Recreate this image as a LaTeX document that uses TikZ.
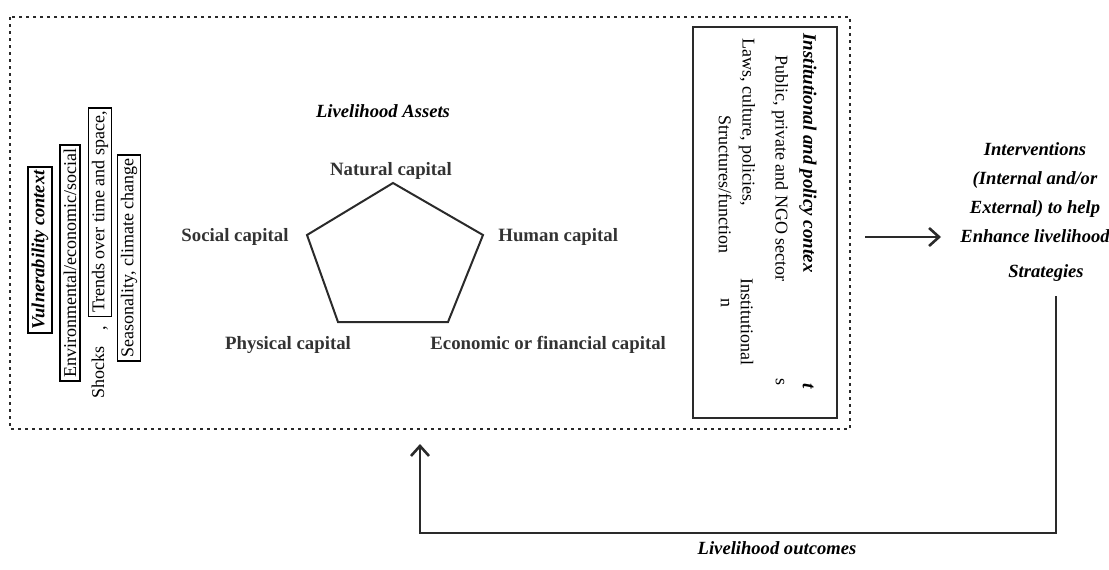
\documentclass[tikz,border=0pt]{standalone}
\usepackage{fontspec}
\setmainfont{Liberation Serif}
\usetikzlibrary{arrows.meta}
\definecolor{ink}{HTML}{2A2A2A}
\definecolor{lab}{HTML}{333333}
\tikzset{
  reg/.style={font=\fontsize{9}{10}\selectfont},
  bi/.style={font=\fontsize{9.3}{11}\selectfont\bfseries\itshape},
  caplabel/.style={font=\fontsize{9.4}{11}\selectfont\bfseries, text=lab, inner sep=0pt},
  vbox/.style={draw, line width=0.8pt, inner sep=1.7pt, rotate=90},
  vtext/.style={inner sep=0pt, rotate=90},
  itext/.style={inner sep=0pt, rotate=-90, anchor=west},
  dotbox/.style={line width=1.4pt, dash pattern=on 1.6pt off 1.9pt, ink},
  pent/.style={line width=1pt, ink, line join=miter},
  arr/.style={line width=1.3pt, ink, -{Straight Barb[length=5pt,width=9pt,line width=1.3pt]}},
}
\begin{document}
\begin{tikzpicture}[x=0.5pt,y=-0.5pt]
\useasboundingbox (0,0) rectangle (1109,569);
% dotted outer frame
\draw[dotbox] (10,17) rectangle (850,429);

% vulnerability context (rotated)
\node[vbox, bi, font=\fontsize{9.2}{11}\selectfont\bfseries\itshape] (vuln) at (40,250) {Vulnerability context};
\node[vbox, reg] (env) at (70,263) {Environmental/economic/social};
\node[vtext, reg] (shocks) at (98,372) {Shocks};
\node[vtext, reg, anchor=base] (comma) at (105,328) {,};
\node[vbox, reg] (trends) at (100,212) {Trends over time and space,};
\node[vbox, reg] (seas) at (129,258) {Seasonality, climate change};

% livelihood assets
\node[bi, inner sep=0pt] (assets) at (383,111) {Livelihood Assets};
\coordinate (p1) at (393,183);
\coordinate (p2) at (483,235);
\coordinate (p3) at (448,322);
\coordinate (p4) at (338,322);
\coordinate (p5) at (307,235);
\draw[pent] (p1) -- (p2) -- (p3) -- (p4) -- (p5) -- cycle;
\node[caplabel] (natural) at (391,171) {Natural capital};
\node[caplabel] (social) at (235,237) {Social capital};
\node[caplabel, anchor=west] (human) at (498,237) {Human capital};
\node[caplabel] (physical) at (288,345) {Physical capital};
\node[caplabel, anchor=west] (economic) at (430,345) {Economic or financial capital};

% institutional box
\draw[line width=0.6pt, ink] (693,27) rectangle (837,418);
\node[itext, bi, font=\fontsize{9.5}{11}\selectfont\bfseries\itshape] (inst) at (808,33) {Institutional and policy contex};
\node[itext, bi, font=\fontsize{9.5}{11}\selectfont\bfseries\itshape] (instt) at (808,383) {t};
\node[itext, reg] (public) at (780,55) {Public, private and NGO sector};
\node[itext, reg] (publics) at (780,378) {s};
\node[itext, reg] (laws) at (747,38) {Laws, culture, policies,};
\node[itext, reg] (lawsi) at (747,278) {Institutional};
\node[itext, reg] (struct) at (725,115) {Structures/function};
\node[itext, reg] (structn) at (725,298) {n};

% interventions
\node[bi, font=\fontsize{9.3}{14.5}\selectfont\bfseries\itshape, align=center, inner sep=0pt] (interv) at (1035,212)
  {Interventions\\(Internal and/or\\External) to help\\Enhance livelihood\\[3pt]\hspace*{11pt}Strategies};
\coordinate (a1) at (865,237);
\coordinate (a2) at (941,237);
\draw[arr] (a1) -- (a2);

% feedback loop
\coordinate (f1) at (1056,296);
\coordinate (f2) at (1056,533);
\coordinate (f3) at (420,533);
\coordinate (f4) at (420,444);
\draw[arr, line join=miter] (f1) -- (f2) -- (f3) -- (f4);
\node[bi, inner sep=0pt] (outcomes) at (777,548) {Livelihood outcomes};
\end{tikzpicture}
\end{document}
